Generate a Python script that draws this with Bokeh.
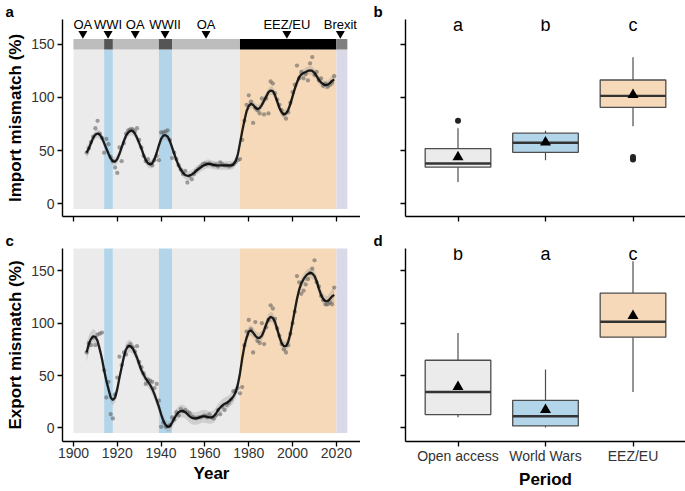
from bokeh.plotting import figure
from bokeh.layouts import column, row
from bokeh.models import Range1d, FixedTicker
from bokeh.embed import file_html
from bokeh.resources import INLINE
from bokeh.core.properties import value

FONT = "Liberation Sans"

# ---------------- periods ----------------
period_names = ["OA", "WWI", "OA", "WWII", "OA", "EEZ/EU", "Brexit"]
period_label_year = [1904.3, 1915.8, 1928.2, 1941.8, 1960.5, 1997.4, 2021.8]
period_start = [1900, 1914, 1918, 1939, 1945, 1976, 2020]
period_end = [1914, 1918, 1939, 1945, 1976, 2020, 2025]
period_band_color = ["#ebebeb", "#b2d5ea", "#ebebeb", "#b2d5ea", "#ebebeb", "#f6d9b8", "#d9d9e8"]
period_bar_color = ["#bdbdbd", "#555555", "#bdbdbd", "#555555", "#bdbdbd", "#000000", "#808080"]

# ---------------- yearly points ----------------
years = list(range(1906, 2020))
import_pts = [48, 52, 58, 63, 71, 78, 66, 62, 48, 61, 56, 44, 40, 34, 29, 53, 40, 57, 66, 69,
              70, 70, 68, 71, 60, 53, 45, 40, 42, 38, 36, 41, 45, 41, 67, 67, 68, 69, 60, 43,
              48, 42, 36, 32, 28, 31, 20, 26, 23, 28, 31, 33, 35, 37, 38, 37, 38, 37, 36, 37,
              35, 39, 37, 36, 36, 35, 36, 37, 39, 41, 42, 60, 78, 93, 102, 96, 76, 90, 88, 85,
              99, 84, 99, 85, 115, 113, 104, 98, 93, 88, 84, 80, 86, 95, 105, 112, 130, 118, 124, 118,
              122, 116, 132, 138, 121, 124, 116, 118, 111, 113, 110, 112, 114, 120]
export_pts = [72, 81, 79, 86, 79, 89, 90, 91, 55, 29, 44, 13, 9, 32, 48, 68, 60, 72, 70, 78,
              80, 77, 73, 78, 63, 58, 52, 42, 46, 45, 44, 38, 42, 26, 1, 5, 1, 1.5, 2.5, 10,
              8, 15, 12, 18, 16, 17, 15, 14, 11, 10, 9, 10, 10, 11, 12, 10, 13, 10, 9, 12,
              17, 13, 20, 17, 22, 24, 27, 35, 35, 38, 33, 39, 79, 92, 103, 94, 72, 101, 83, 81,
              100, 80, 96, 103, 117, 114, 104, 95, 88, 80, 75, 72, 79, 90, 100, 111, 145, 139, 128, 131,
              137, 142, 148, 152, 160, 139, 135, 126, 122, 118, 118, 120, 118, 134]

# ---------------- smoothed trend ----------------
import_smooth = [48, 52, 57, 62, 65, 66, 65, 62, 57, 52, 47, 42.5, 40, 39.5, 42, 47, 53, 59, 64, 67,
                 68.5, 68.5, 66, 62, 57, 52, 46, 41, 38, 37, 38, 42, 48, 55, 61, 64, 64.5, 63, 59, 53,
                 47, 41, 36, 32, 29, 27, 26.3, 26.5, 27.5, 29, 31, 32.5, 34, 35.5, 36.5, 37.5, 37.5, 37, 36.5, 36,
                 36, 36, 36, 36, 36, 36, 36, 37, 40, 46, 57, 68, 78, 87, 92, 94, 93, 90.5, 89, 90,
                 93, 97, 101, 105, 106.5, 106, 102, 96, 90, 86, 84, 85, 88, 94, 101, 108, 114, 119, 121.5, 123,
                 124, 125, 125.5, 125, 123, 120, 116.5, 114, 112.5, 111.5, 112, 113.5, 115.5, 117]
import_ci = [6, 5, 4.5, 4, 4, 4, 4, 4, 4, 4, 4, 4, 4, 4, 4, 4, 4, 4, 4, 4,
             4, 4, 4, 4, 4, 4, 4, 4, 4, 4, 4, 4, 4, 4, 4, 4, 4, 4, 4, 4,
             4, 4, 4, 4, 4, 4, 4, 4, 4, 4, 4, 4, 4, 4, 4, 4, 4, 4, 4, 4,
             4, 4, 4, 4, 4, 4, 4, 4, 4, 4, 4, 4, 4, 4, 4, 4, 4, 4, 4, 4,
             4, 4, 4, 4, 4, 4, 4, 4, 4, 4, 4, 4, 4, 4, 4, 4, 4, 4, 4, 4,
             4, 4, 4, 4, 4, 4, 4, 4, 4, 4, 4, 4.5, 5, 6]
export_smooth = [72, 80, 85, 87.5, 87, 83, 75, 66, 55, 45, 37, 29, 26.5, 29, 37, 48, 58, 68, 75, 78,
                 78, 76, 72, 67, 61, 55, 51, 47, 44, 41, 37, 32, 26, 20, 13, 7, 3, 1, 1.5, 5,
                 9, 12.5, 15, 16, 16, 15, 13, 11, 9.5, 9, 9, 9.5, 10.5, 11, 11, 10.5, 10, 10, 11, 13.5,
                 17, 19.5, 21.5, 23, 24, 25.5, 27.5, 30, 34, 41, 52, 66, 78, 86, 92, 93, 91, 88, 86, 86,
                 88, 93, 99, 104, 106, 105, 101, 94, 87, 81, 78, 78, 82, 90, 101, 112, 123, 132, 138, 142,
                 145, 147, 148, 147.5, 145, 140, 133, 127, 123, 121, 121, 123, 125.5, 127]
export_ci = [9, 8, 7, 7, 6, 5, 5, 5, 5, 5, 5, 5, 5, 5, 5, 5, 5, 5, 6, 6,
             6, 5, 5, 5, 5, 5, 5, 5, 5, 5, 5, 5, 5, 5, 5, 5, 5, 5, 5, 5,
             5, 6, 6, 6, 6, 6, 6, 6, 6, 6, 6, 6, 6, 6, 6, 6, 6, 6, 6, 6,
             6, 6, 6, 6, 6, 6, 6, 6, 6, 5, 5, 5, 5, 5, 5, 5, 5, 5, 5, 5,
             5, 5, 5, 5, 5, 5, 5, 5, 5, 5, 5, 5, 5, 5, 5, 5, 5, 5, 5, 5,
             5, 5, 5, 5, 5, 5, 5, 5, 5, 5, 5, 6, 7, 8]

# ---------------- box plot summaries ----------------
box_cats = ["Open access", "World Wars", "EEZ/EU"]
box_colors = ["#ebebeb", "#b2d5ea", "#f6d9b8"]
imp_low = [20.5, 41, 73]
imp_q1 = [34.4, 48.4, 90.6]
imp_med = [37.9, 57.4, 101.5]
imp_q3 = [51.9, 66.4, 116.4]
imp_high = [71, 68.6, 137.8]
imp_mean = [43.8, 57.7, 102.4]
imp_out_cat = [1, 3, 3]
imp_out_val = [78, 41.5, 44]
imp_letters = ["a", "b", "c"]

exp_low = [10.2, 0.3, 34.3]
exp_q1 = [12.7, 1.9, 86.6]
exp_med = [34.3, 11.1, 101.4]
exp_q3 = [64.6, 26.3, 128.6]
exp_high = [90.6, 55.7, 159.2]
exp_mean = [39.3, 17.3, 107]
exp_letters = ["b", "a", "c"]

year_ticks = [1900, 1920, 1940, 1960, 1980, 2000, 2020]
val_ticks = [0, 50, 100, 150]

TICK_COL = "#333333"
TOP_YR = (-12, 173.3)
BOT_YR = (-13, 171.3)
TS_XR = (1895, 2031)
BOX_XR = (0.4, 3.6)


def style_axes(p, show_y_labels, panel, title_offset):
    p.grid.visible = False
    p.outline_line_color = None
    p.background_fill_color = "white"
    p.border_fill_color = "white"
    p.title.text = panel
    p.title.align = "left"
    p.title.offset = title_offset
    p.title.standoff = 0
    p.title.text_font = FONT
    p.title.text_font_size = "15px"
    p.title.text_font_style = "bold"
    p.title.text_color = "black"
    for ax in (p.xaxis[0], p.yaxis[0]):
        ax.axis_line_color = "black"
        ax.axis_line_width = 1.4
        ax.major_tick_line_color = "black"
        ax.major_tick_line_width = 1.3
        ax.major_tick_out = 5
        ax.major_tick_in = 0
        ax.minor_tick_line_color = None
        ax.major_label_text_font = FONT
        ax.major_label_text_font_size = "14px"
        ax.major_label_text_color = TICK_COL
        ax.major_label_standoff = 3
        ax.axis_label_text_font = FONT
        ax.axis_label_text_font_size = "17px"
        ax.axis_label_text_font_style = "bold"
        ax.axis_label_text_color = "black"
        ax.axis_label_standoff = 3
    p.xaxis.major_label_standoff = 1
    p.xaxis.axis_label_standoff = 3
    p.yaxis.ticker = FixedTicker(ticks=val_ticks)
    if not show_y_labels:
        p.yaxis.major_label_overrides = {t: "" for t in val_ticks}
        p.yaxis.major_label_standoff = 0


def ts_figure(height, bot_b, yr, pts, smooth, ci, band_top, ylab, show_x, with_bar, panel):
    p = figure(width=360, height=height, x_range=Range1d(*TS_XR), y_range=Range1d(*yr),
               output_backend="svg", toolbar_location=None,
               min_border_left=62, min_border_right=0, min_border_top=0, min_border_bottom=bot_b)
    style_axes(p, True, panel, -57)
    p.xaxis.ticker = FixedTicker(ticks=year_ticks)
    if not show_x:
        p.xaxis.major_label_overrides = {t: "" for t in year_ticks}
        p.xaxis.major_label_standoff = 0
    else:
        p.xaxis.axis_label = "Year"
    p.yaxis.axis_label = ylab

    p.quad(left=period_start, right=period_end, bottom=-5, top=band_top,
           fill_color=period_band_color, line_color=None)
    lo = [s - c for s, c in zip(smooth, ci)]
    hi = [s + c for s, c in zip(smooth, ci)]
    p.varea(x=years, y1=lo, y2=hi, fill_color="#9a9a9a", fill_alpha=0.35)
    p.scatter(x=years, y=pts, size=4.3, fill_color="#5a5a5a", line_color=None, fill_alpha=0.55)
    p.line(x=years, y=smooth, line_color="black", line_width=2.3, line_alpha=0.86)

    if with_bar:
        p.quad(left=period_start, right=period_end, bottom=band_top, top=band_top + 10,
               fill_color=period_bar_color, line_color=None)
        p.scatter(x=period_label_year, y=[band_top + 15] * len(period_label_year),
                  marker="inverted_triangle", size=9, fill_color="black", line_color=None)
        p.text(x=period_label_year, y=[band_top + 23.5] * len(period_label_year), text=period_names,
               text_font=value(FONT), text_font_size="13px", text_align="center",
               text_baseline="middle", text_color="black")
    return p


def box_figure(height, bot_b, yr, low, q1, med, q3, high, mean, letters, letter_y,
               show_x, panel, out_cat=None, out_val=None):
    p = figure(width=325, height=height, x_range=Range1d(*BOX_XR), y_range=Range1d(*yr),
               output_backend="svg", toolbar_location=None,
               min_border_left=45, min_border_right=0, min_border_top=0, min_border_bottom=bot_b)
    style_axes(p, False, panel, -32)
    xs = list(range(1, len(box_cats) + 1))
    p.xaxis.ticker = FixedTicker(ticks=xs)
    if show_x:
        p.xaxis.major_label_overrides = {i: c for i, c in zip(xs, box_cats)}
        p.xaxis.axis_label = "Period"
    else:
        p.xaxis.major_label_overrides = {i: "" for i in xs}
        p.xaxis.major_label_standoff = 0
    w = 0.75 / 2
    p.segment(x0=xs, y0=q3, x1=xs, y1=high, line_color="#4d4d4d", line_width=1.2)
    p.segment(x0=xs, y0=low, x1=xs, y1=q1, line_color="#4d4d4d", line_width=1.2)
    p.quad(left=[x - w for x in xs], right=[x + w for x in xs], bottom=q1, top=q3,
           fill_color=box_colors, line_color="#4d4d4d", line_width=1.3)
    p.segment(x0=[x - w for x in xs], y0=med, x1=[x + w for x in xs], y1=med,
              line_color="#333333", line_width=2.4)
    p.scatter(x=xs, y=mean, marker="triangle", size=11, fill_color="black", line_color=None)
    if out_cat:
        p.scatter(x=out_cat, y=out_val, size=6, fill_color="#222222", line_color=None)
    p.text(x=xs, y=[letter_y] * len(xs), text=letters, text_font=value(FONT),
           text_font_size="18px", text_align="center", text_baseline="middle", text_color="black")
    return p


pa = ts_figure(229, 13, TOP_YR, import_pts, import_smooth, import_ci, 145,
               "Import mismatch (%)", False, True, "a")
pc = ts_figure(262, 40, BOT_YR, export_pts, export_smooth, export_ci, 175,
               "Export mismatch (%)", True, False, "c")
pb = box_figure(229, 13, TOP_YR, imp_low, imp_q1, imp_med, imp_q3, imp_high, imp_mean,
                imp_letters, 168.3, False, "b", imp_out_cat, imp_out_val)
pd_ = box_figure(262, 40, BOT_YR, exp_low, exp_q1, exp_med, exp_q3, exp_high, exp_mean,
                 exp_letters, 166.3, True, "d")

layout = column(row(pa, pb), row(pc, pd_))
open("out.html", "w").write(file_html(layout, INLINE))
